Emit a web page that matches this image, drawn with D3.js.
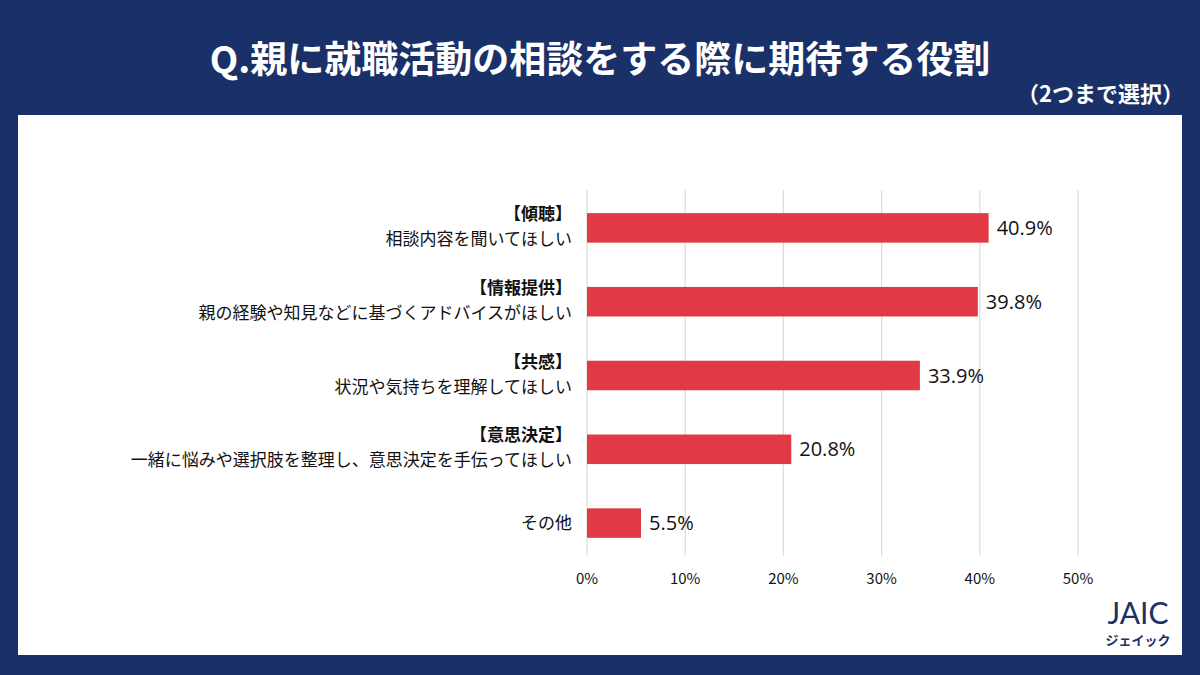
<!DOCTYPE html>
<html><head><meta charset="utf-8">
<script src="https://cdn.jsdelivr.net/npm/d3@7"></script>
<style>body{margin:0;background:#1a3068;}svg{display:block;font-family:"Noto Sans CJK JP","Noto Sans",sans-serif;}</style>
</head><body>
<svg id="chart" width="1200" height="675"></svg>
<script>
var heads = ["【傾聴】","【情報提供】","【共感】","【意思決定】",""]
var labels = ["相談内容を聞いてほしい","親の経験や知見などに基づくアドバイスがほしい","状況や気持ちを理解してほしい","一緒に悩みや選択肢を整理し、意思決定を手伝ってほしい","その他"]
var values = [40.9,39.8,33.9,20.8,5.5]
var ticks = [0,10,20,30,40,50]

var svg = d3.select("#chart")
svg.append("rect").attr("width",1200).attr("height",675).attr("fill","#1a3068")
svg.append("rect").attr("x",18).attr("y",115).attr("width",1164).attr("height",540).attr("fill","#fff")
svg.append("text").attr("x",600).attr("y",73).attr("text-anchor","middle").attr("fill","#fff")
    .attr("font-size",37).attr("font-weight",700).text("Q.親に就職活動の相談をする際に期待する役割")
svg.append("text").attr("x",1184).attr("y",102).attr("text-anchor","end").attr("fill","#fff")
    .attr("font-size",22).attr("font-weight",700).text("（2つまで選択）")

var x = d3.scaleLinear().domain([0,50]).range([587,1078])
var y = d3.scaleBand().domain(d3.range(values.length)).range([191,560]).paddingInner(0.6).paddingOuter(0.3)

svg.selectAll(".grid").data(ticks).enter().append("line")
    .attr("x1",function(d){return x(d)}).attr("x2",function(d){return x(d)})
    .attr("y1",190).attr("y2",556).attr("stroke","#dcdcdc").attr("stroke-width",1.2)
svg.selectAll(".tick").data(ticks).enter().append("text")
    .attr("x",function(d){return x(d)}).attr("y",584).attr("text-anchor","middle")
    .attr("font-size",15).attr("fill","#111").text(function(d){return d+"%"})

svg.selectAll(".bar").data(values).enter().append("rect")
    .attr("x",x(0)).attr("y",function(d,i){return y(i)})
    .attr("width",function(d){return x(d)-x(0)}).attr("height",y.bandwidth())
    .attr("fill","#e23a45")
svg.selectAll(".val").data(values).enter().append("text")
    .attr("x",function(d){return x(d)+8}).attr("y",function(d,i){return y(i)+y.bandwidth()/2+7})
    .attr("font-size",20).attr("fill","#111").attr("font-family","'Open Sans','Noto Sans',sans-serif")
    .text(function(d){return d.toFixed(1)+"%"})

labels.forEach(function(l,i){
    var cy = y(i)+y.bandwidth()/2
    if(heads[i]){
        svg.append("text").attr("x",572).attr("y",cy-8).attr("text-anchor","end")
            .attr("font-size",17).attr("font-weight",700).attr("fill","#111").text(heads[i])
        svg.append("text").attr("x",572).attr("y",cy+17).attr("text-anchor","end")
            .attr("font-size",17).attr("fill","#111").text(l)
    } else {
        svg.append("text").attr("x",572).attr("y",cy+6).attr("text-anchor","end")
            .attr("font-size",17).attr("fill","#111").text(l)
    }
})

// logo
svg.append("text").attr("x",1138).attr("y",624).attr("text-anchor","middle")
    .attr("font-size",30).attr("font-family","Lato,sans-serif").attr("fill","#1a3068").text("JAIC")
svg.append("text").attr("x",1138).attr("y",645).attr("text-anchor","middle")
    .attr("font-size",13).attr("font-weight",700).attr("fill","#1a3068").text("ジェイック")
</script>
</body></html>
